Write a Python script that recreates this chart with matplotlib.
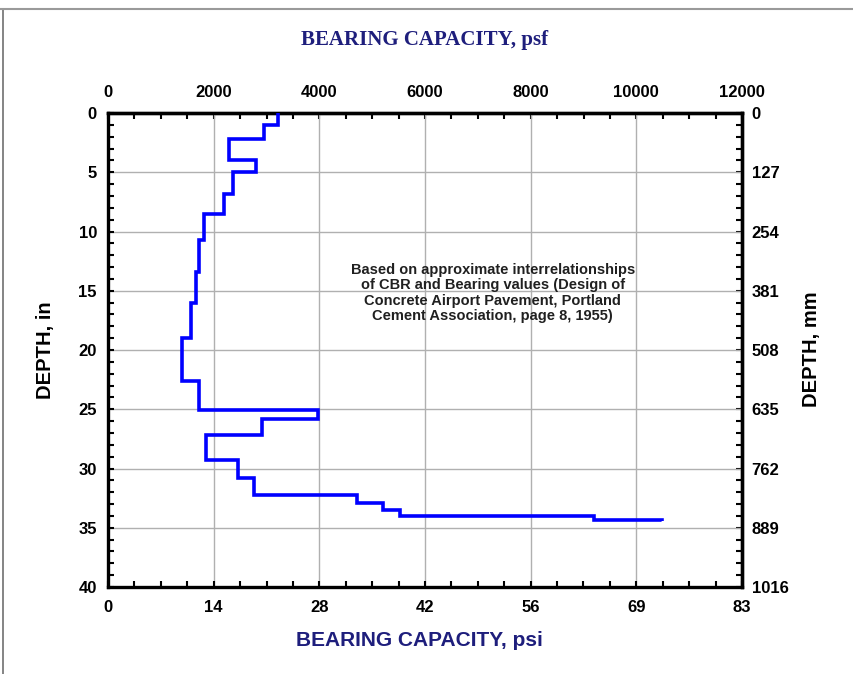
import matplotlib
matplotlib.use("Agg")
import matplotlib.pyplot as plt
from matplotlib.lines import Line2D
from matplotlib.ticker import MultipleLocator

# layer boundaries (depth, in) and bearing capacity in each layer (psf)
depth_edges = [0.0, 1.0, 2.2, 4.0, 5.0, 6.8, 8.5, 10.7, 13.4, 16.0, 19.0, 22.6,
               25.05, 25.85, 27.2, 29.3, 30.8, 32.2, 32.9, 33.5, 34.0, 34.35, 34.45]
bearing_psf = [3220, 2960, 2290, 2810, 2370, 2200, 1820, 1720, 1660, 1570, 1400,
               1730, 3970, 2910, 1860, 2470, 2760, 4710, 5210, 5530, 9190, 10480]

psf_ticks = [0, 2000, 4000, 6000, 8000, 10000, 12000]
psi_labels = [str(round(v / 144)) for v in psf_ticks]
depth_ticks = [0, 5, 10, 15, 20, 25, 30, 35, 40]
mm_labels = [str(round(d * 25.4)) for d in depth_ticks]

note = ("Based on approximate interrelationships\n"
        "of CBR and Bearing values (Design of\n"
        "Concrete Airport Pavement, Portland\n"
        "Cement Association, page 8, 1955)")

navy = "#1e1e7c"
sans = "Liberation Sans"
serif = "Liberation Serif"

fig = plt.figure(figsize=(8.54, 6.74), dpi=100)
W, H = 854, 674
ax = fig.add_axes([108 / W, 1 - 587 / H, (742 - 108) / W, (587 - 113) / H])

ax.stairs(bearing_psf, depth_edges, orientation="horizontal", baseline=None,
          color="#0000ff", linewidth=2.6, zorder=3)

ax.set_xlim(0, 12000)
ax.set_ylim(40, 0)
ax.grid(True, color="#b0b0b0", linewidth=1.0, zorder=0)
ax.set_axisbelow(True)

tick_font = dict(family=sans, weight="bold", size=12)

ax.set_xticks(psf_ticks, labels=psi_labels, **tick_font)
ax.set_yticks(depth_ticks, labels=[str(d) for d in depth_ticks], **tick_font)
ax.xaxis.set_minor_locator(MultipleLocator(500))
ax.yaxis.set_minor_locator(MultipleLocator(1))
ax.tick_params(axis="both", which="both", direction="in", length=4, width=1.5, color="black")
ax.tick_params(axis="x", pad=9)
ax.tick_params(axis="y", pad=8)
for s in ax.spines.values():
    s.set_linewidth(2.4)

top = ax.secondary_xaxis("top")
top.set_xticks(psf_ticks, labels=[str(v) for v in psf_ticks], **tick_font)
top.xaxis.set_minor_locator(MultipleLocator(500))
top.tick_params(axis="x", which="both", direction="in", length=4, width=1.5, pad=9)
top.spines["top"].set_linewidth(2.4)

right = ax.secondary_yaxis("right")
right.set_yticks(depth_ticks, labels=mm_labels, **tick_font)
right.yaxis.set_minor_locator(MultipleLocator(1))
right.tick_params(axis="y", which="both", direction="in", length=4, width=1.5, pad=7)
right.spines["right"].set_linewidth(2.4)

ax.text(7280, 15.2, note, ha="center", va="center", family=sans, weight="bold",
        size=10.5, color="#202020", linespacing=1.13, zorder=4)

fig.text(425 / W, 1 - 40 / H, "BEARING CAPACITY, psf", ha="center", va="center",
         family=serif, weight="bold", size=15, color=navy)
fig.text(419 / W, 1 - 641 / H, "BEARING CAPACITY, psi", ha="center", va="center",
         family=sans, weight="bold", size=15, color=navy)
fig.text(45 / W, 1 - 350 / H, "DEPTH, in", ha="center", va="center", rotation=90,
         family=sans, weight="bold", size=14.5, color="black")
fig.text(812 / W, 1 - 349 / H, "DEPTH, mm", ha="center", va="center", rotation=90,
         family=sans, weight="bold", size=14.5, color="black")

# screenshot frame lines
fig.add_artist(Line2D([3 / W, 3 / W], [0, 1 - 9 / H], transform=fig.transFigure,
                      color="#707070", linewidth=1.2))
fig.add_artist(Line2D([0, 1], [1 - 9 / H, 1 - 9 / H], transform=fig.transFigure,
                      color="#9a9a9a", linewidth=1.5))

fig.savefig("out.png", dpi=100)
